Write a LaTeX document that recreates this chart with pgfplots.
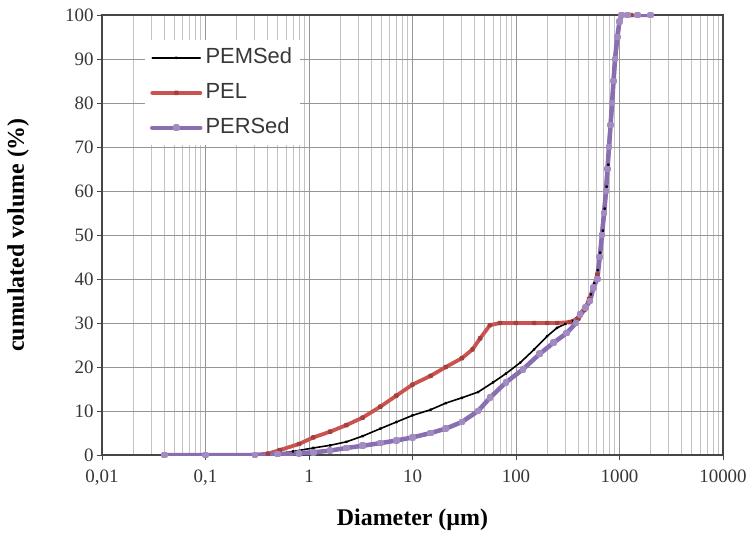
\documentclass[border=0pt]{standalone}
\usepackage{pgfplots}
\pgfplotsset{compat=1.18}
\usepackage{fontspec}
\setmainfont{Liberation Serif}
\newfontfamily\arialfont{Liberation Sans}
\definecolor{pelred}{RGB}{203,82,78}
\definecolor{perpurple}{RGB}{138,110,178}
\definecolor{framegray}{RGB}{70,70,70}
\definecolor{gridgray}{RGB}{150,150,150}
\definecolor{minorgray}{RGB}{195,195,195}
\definecolor{txtgray}{RGB}{55,55,55}

\begin{document}
\begin{tikzpicture}
\useasboundingbox (-102bp,-80bp) rectangle (653bp,455bp);
\begin{axis}[
  at={(0,0)}, anchor=south west,
  scale only axis, width=621bp, height=440bp,
  xmode=log, log basis x=10,
  xmin=0.01, xmax=10000, ymin=0, ymax=100,
  xtick={0.01,0.1,1,10,100,1000,10000},
  xticklabels={{0,01},{0,1},1,10,100,1000,10000},
  minor xtick={0.02,0.03,0.04,0.05,0.06,0.07,0.08,0.09,
               0.2,0.3,0.4,0.5,0.6,0.7,0.8,0.9,
               2,3,4,5,6,7,8,9,
               20,30,40,50,60,70,80,90,
               200,300,400,500,600,700,800,900,
               2000,3000,4000,5000,6000,7000,8000,9000},
  ytick={0,10,...,100},
  xmajorgrids, xminorgrids, ymajorgrids,
  major grid style={gridgray, line width=0.8bp},
  minor grid style={minorgray, line width=0.8bp},
  axis line style={framegray, line width=1.6bp},
  tick align=outside, major tick length=5bp, minor tick length=0pt,
  tick style={framegray, line width=0.8bp},
  xtick pos=bottom, ytick pos=left,
  /pgf/number format/assume math mode=true,
  ticklabel style={font=\fontsize{19}{19}\selectfont, text=txtgray},
  xticklabel style={yshift=-6bp},
  xlabel={Diameter (µm)},
  ylabel={cumulated volume (\%)},
  label style={font=\bfseries\fontsize{24}{24}\selectfont, text=black},
  xlabel style={at={(axis description cs:0.5,-0.148)}, anchor=center},
  ylabel style={at={(axis description cs:-0.135,0.5)}, anchor=center},
  legend cell align=left,
  legend style={at={(0.069,0.943)}, anchor=north west, draw=none, fill=white,
    font=\arialfont\fontsize{22}{22}\selectfont, text=txtgray,
    inner sep=5bp, row sep=10bp,
    nodes={inner sep=3bp, text height=15bp, text depth=4bp}},
  legend image code/.code={\draw[mark repeat=2, mark phase=2, #1] plot coordinates {(0bp,0bp) (24bp,0bp) (48bp,0bp)};},
  every axis plot/.append style={line cap=round, line join=round},
]
% PEMSed
\addplot[black, line width=1.6bp, mark=*, mark size=0.7bp] coordinates {
(0.04,0) (0.1,0) (0.3,0) (0.5,0.3) (0.7,0.8) (1.1,1.6) (1.6,2.2) (2.3,3)
(3.3,4.3) (4.9,6) (7,7.5) (10,9) (15,10.3) (21,11.8) (30,13) (43,14.3)
(60,16.5) (80,18.5) (110,21) (150,24) (200,27) (249,28.9) (300,29.8)
(350,30.5) (420,32) (480,34) (530,36.5) (570,39) (615,42) (650,46)
(690,51) (720,56) (750,61) (780,66) (805,70) (835,75) (860,80) (890,85)
(920,90) (960,95) (1010,98.5) (1060,100) (1300,100) (2000,100)
};
\addlegendentry{PEMSed}
% PEL
\addplot[pelred, line width=3.8bp, mark=*, mark size=0.9bp, mark options={fill=pelred!80!black, draw=pelred!80!black}] coordinates {
(0.04,0) (0.1,0) (0.3,0) (0.4,0.3) (0.52,1.1) (0.8,2.5) (1.1,4) (1.6,5.3)
(2.3,6.8) (3.3,8.5) (4.9,11) (7,13.5) (10,16) (15,18) (21,20) (30,22)
(38,24) (45,26.5) (56,29.5) (70,30) (100,30) (150,30) (200,30) (250,30)
(330,30.2) (400,31) (460,33) (510,35.5) (560,38) (610,41) (645,45)
(677,50) (741,60) (792,70) (848,80) (906,90) (1000,98.5) (1050,100)
(1300,100) (2000,100)
};
\addlegendentry{PEL}
% PERSed
\addplot[perpurple, line width=4.5bp, mark=square*, mark size=1.1bp, mark options={fill=perpurple!80!white, draw=perpurple!80!white}] coordinates {
(0.04,0) (0.1,0) (0.3,0) (0.5,0.2) (0.8,0.4) (1.1,0.6) (1.6,1.0) (2.3,1.6)
(3.3,2.1) (4.9,2.7) (7,3.3) (10,4) (15,5) (21,6) (30,7.5) (43,10) (56,13)
(80,16.5) (117,19.5) (170,23) (230,25.5) (309,27.7) (380,30) (416,32)
(470,33.5) (519,35) (560,38) (610,40) (645,45) (677,50) (710,55) (741,60)
(765,65) (792,70) (820,75) (848,80) (875,85) (906,90) (950,95) (1000,98.5)
(1050,100) (1200,100) (1500,100) (2000,100)
};
\addlegendentry{PERSed}
\end{axis}
\end{tikzpicture}
\end{document}
